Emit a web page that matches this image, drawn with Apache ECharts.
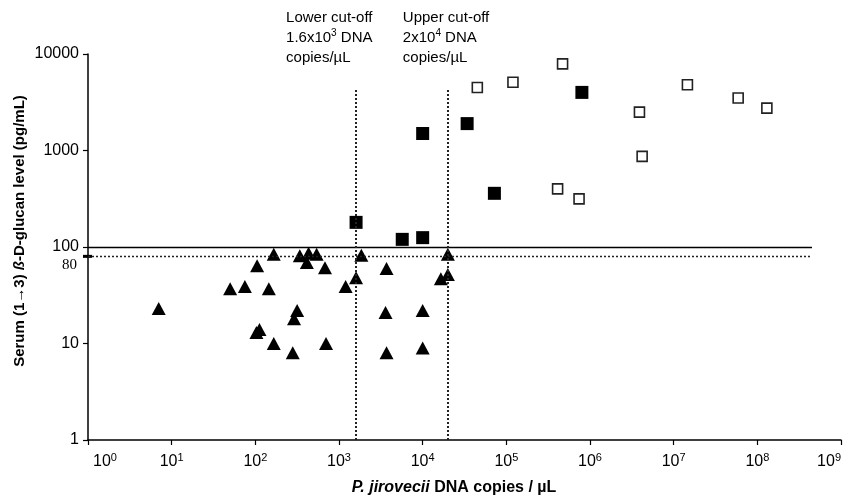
<!DOCTYPE html>
<html>
<head>
<meta charset="utf-8">
<script src="https://cdn.jsdelivr.net/npm/echarts@6/dist/echarts.min.js"></script>
<style>
  html, body { margin: 0; padding: 0; background: #fff; }
  #chart { width: 846px; height: 502px; }
</style>
</head>
<body>
<div id="chart"></div>
<script>
// P. jirovecii DNA copies/uL (x) vs serum BDG pg/mL (y)
var triangles = [
  [7, 23], [50, 37], [75, 39], [145, 37], [105, 64], [166, 84], [340, 81], [433, 86],
  [540, 84], [413, 69], [680, 61], [316, 22], [290, 18], [112, 14], [103, 13], [166, 10],
  [280, 8], [700, 10], [1850, 82], [1600, 48], [1200, 39], [3700, 60], [20000, 84],
  [20000, 52], [16500, 47], [3600, 21], [10000, 22], [3700, 8], [10000, 9]
];
var filledSquares = [
  [1600, 180], [5700, 120], [10000, 125], [10000, 1500], [34000, 1900], [72000, 360], [800000, 4000]
];
var openSquares = [
  [45000, 4500], [120000, 5100], [470000, 7900], [410000, 400], [740000, 315],
  [3.9e6, 2500], [4.2e6, 870], [1.46e7, 4800], [5.9e7, 3500], [1.3e8, 2750]
];
var cutOffs = [1600, 20000];        // lower / upper cut-off
var bdgLevels = [100, 80];           // positive threshold / grey zone
var refLineEnd = 4.5e8;              // horizontal lines stop here
var cutLineTop = 4450;               // vertical lines start here

var font = '"Liberation Sans", Arial, sans-serif';
var narrow = '"Liberation Sans Narrow", "Liberation Sans", Arial, sans-serif';

var chart = echarts.init(document.getElementById('chart'));

var option = {
  backgroundColor: '#fff',
  animation: false,
  grid: { left: 88, right: 5, top: 54, bottom: 62, containLabel: false, outerBoundsMode: 'none' },
  xAxis: {
    type: 'log',
    logBase: 10,
    min: 1,
    max: 1e9,
    interval: 1,
    splitLine: { show: false },
    axisLine: { lineStyle: { color: '#000', width: 1.5 } },
    axisTick: { length: 5, lineStyle: { color: '#000', width: 1.2 } },
    axisLabel: {
      margin: 13,
      alignMinLabel: 'left',
      alignMaxLabel: 'right',
      formatter: function (v) {
        var e = Math.round(Math.log10(v));
        return (e === 0 ? '{p|}' : '') + '{b|10}{s|' + e + '}';
      },
      rich: {
        p: { width: 5 },
        b: { fontFamily: narrow, fontSize: 16, color: '#000', lineHeight: 18 },
        s: { fontFamily: narrow, fontSize: 11, color: '#000', lineHeight: 11, padding: [0, 0, 8, 0] }
      }
    }
  },
  yAxis: {
    type: 'log',
    logBase: 10,
    min: 1,
    max: 10000,
    interval: 1,
    splitLine: { show: false },
    axisLine: { lineStyle: { color: '#000', width: 1.5 } },
    axisTick: { length: 5, lineStyle: { color: '#000', width: 1.2 } },
    axisLabel: {
      margin: 9,
      color: '#000',
      fontFamily: font,
      fontSize: 16,
      formatter: function (v) { return String(Math.round(v)); }
    }
  },
  series: [
    {
      name: 'triangles',
      type: 'scatter',
      symbol: 'triangle',
      symbolSize: [14, 13],
      itemStyle: { color: '#000', opacity: 1 },
      data: triangles,
      markLine: {
        silent: true,
        symbol: 'none',
        label: { show: false },
        data: [
          [{ coord: [1, bdgLevels[0]], lineStyle: { type: 'solid', width: 1.3, color: '#000' } },
           { coord: [refLineEnd, bdgLevels[0]] }],
          [{ coord: [1, bdgLevels[1]], lineStyle: { type: [2, 2], width: 1.3, color: '#222' } },
           { coord: [refLineEnd, bdgLevels[1]] }],
          [{ coord: [cutOffs[0], 1], lineStyle: { type: [2, 2], width: 2, color: '#222' } },
           { coord: [cutOffs[0], cutLineTop] }],
          [{ coord: [cutOffs[1], 1], lineStyle: { type: [2, 2], width: 2, color: '#222' } },
           { coord: [cutOffs[1], cutLineTop] }]
        ]
      }
    },
    {
      name: 'filled',
      type: 'scatter',
      symbol: 'rect',
      symbolSize: 13,
      itemStyle: { color: '#000', opacity: 1 },
      data: filledSquares
    },
    {
      name: 'open',
      type: 'scatter',
      symbol: 'rect',
      symbolSize: 10,
      itemStyle: { color: '#fff', borderColor: '#222', borderWidth: 1.6, opacity: 1 },
      data: openSquares
    }
  ]
};

chart.setOption(option);

// annotations placed from the axes
var axisX = chart.convertToPixel({ xAxisIndex: 0 }, 1);
var y80 = chart.convertToPixel({ yAxisIndex: 0 }, bdgLevels[1]);
var xLow = chart.convertToPixel({ xAxisIndex: 0 }, cutOffs[0]);
var xUp = chart.convertToPixel({ xAxisIndex: 0 }, cutOffs[1]);

var noteRich = {
  n: { fontFamily: font, fontSize: 15, lineHeight: 20, fill: '#000' },
  s: { fontFamily: font, fontSize: 10, lineHeight: 12, verticalAlign: 'top', fill: '#000' }
};

chart.setOption({
  graphic: [
    {
      type: 'line',
      shape: { x1: axisX - 5, y1: y80, x2: axisX + 4, y2: y80 },
      style: { stroke: '#000', lineWidth: 3 }
    },
    {
      type: 'text',
      x: axisX - 11, y: y80 + 9,
      style: {
        text: '80', font: '15px "Liberation Serif", "Times New Roman", serif',
        fill: '#000', align: 'right', verticalAlign: 'middle'
      }
    },
    {
      type: 'text',
      x: xLow - 70, y: 8,
      style: {
        text: '{n|Lower cut-off}\n{n|1.6x10}{s|3}{n| DNA}\n{n|copies/µL}',
        rich: noteRich, align: 'left', verticalAlign: 'top'
      }
    },
    {
      type: 'text',
      x: xUp - 45, y: 8,
      style: {
        text: '{n|Upper cut-off}\n{n|2x10}{s|4}{n| DNA}\n{n|copies/µL}',
        rich: noteRich, align: 'left', verticalAlign: 'top'
      }
    },
    {
      type: 'text',
      x: 454, y: 488,
      style: {
        text: '{i|P. jirovecii}{b| DNA copies / µL}',
        align: 'center', verticalAlign: 'middle',
        rich: {
          i: { fontFamily: narrow, fontSize: 16, fontWeight: 'bold', fontStyle: 'italic', fill: '#000' },
          b: { fontFamily: narrow, fontSize: 16, fontWeight: 'bold', fill: '#000' }
        }
      }
    },
    {
      type: 'text',
      x: 20, y: 231,
      rotation: Math.PI / 2,
      style: {
        text: '{b|Serum (1→3) }{i|ß}{b|-D-glucan level (pg/mL)}',
        align: 'center', verticalAlign: 'middle',
        rich: {
          b: { fontFamily: font, fontSize: 15, fontWeight: 'bold', fill: '#000' },
          i: { fontFamily: font, fontSize: 15, fontWeight: 'bold', fontStyle: 'italic', fill: '#000' }
        }
      }
    }
  ]
});
</script>
</body>
</html>
